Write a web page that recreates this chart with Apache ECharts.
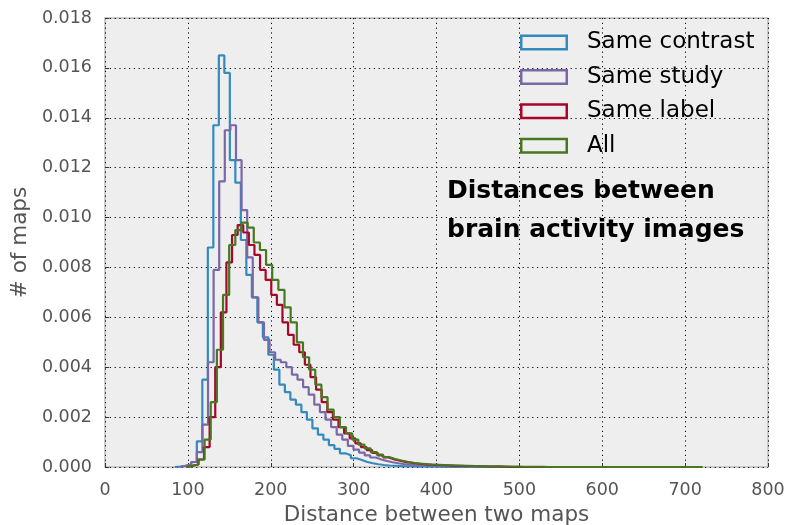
<!DOCTYPE html>
<html><head><meta charset="utf-8">
<script src="https://cdn.jsdelivr.net/npm/echarts@6/dist/echarts.min.js"></script>
<style>html,body{margin:0;padding:0;background:#fff}#c{width:788px;height:525px}</style>
</head><body><div id="c"></div>
<script>
// ---------------- data ----------------
const seriesNames = ['Same contrast', 'Same study', 'Same label', 'All'];
const seriesColors = ['#348ABD', '#7A68A6', '#A60628', '#467821'];
const xTicks = [0, 100, 200, 300, 400, 500, 600, 700, 800];
const yTicks = [0, 0.002, 0.004, 0.006, 0.008, 0.010, 0.012, 0.014, 0.016, 0.018];
const titleLines = ['Distances between', 'brain activity images'];
const xName = 'Distance between two maps';
const yName = '# of maps';

// histogram bins: first bin edge and bin width (data units), then bin heights
const contrastStart = 84.24, contrastWidth = 6.64;
const contrastValues = [0.00002, 0.00005, 0.0001, 0.0002, 0.00103, 0.0035, 0.0088, 0.0137, 0.0165, 0.0158,
  0.0123, 0.0114, 0.0091, 0.0077, 0.0068, 0.0058, 0.0052, 0.0045, 0.0039, 0.0033,
  0.0030, 0.0027, 0.0025, 0.0022, 0.0019, 0.00155, 0.0013, 0.0011, 0.00088, 0.00073,
  0.00055, 0.00047, 0.00035, 0.00028, 0.0002, 0.00015, 0.00011, 0.00008, 0.00006, 0.00005,
  0.00004, 0.00003, 0.00003, 0.00002, 0.00002, 0.00002, 0.00001, 0.00001, 0.00001, 0.00001,
  0, 0, 0, 0, 0, 0, 0, 0, 0, 0, 0, 0, 0, 0, 0, 0, 0, 0, 0, 0, 0, 0, 0, 0, 0, 0, 0, 0];

const studyStart = 90.55, studyWidth = 6.75;
const studyValues = [0.00005, 0.0001, 0.0002, 0.0006, 0.0017, 0.0042, 0.0079, 0.01145, 0.0135, 0.0137,
  0.0123, 0.0103, 0.0084, 0.0068, 0.0058, 0.0051, 0.0046, 0.0043, 0.0042, 0.0040,
  0.0037, 0.0035, 0.0032, 0.0029, 0.0025, 0.0022, 0.0019, 0.0016, 0.0013, 0.0011,
  0.00085, 0.0007, 0.00058, 0.00047, 0.00038, 0.0003, 0.00024, 0.00019, 0.00015, 0.00012,
  0.0001, 0.00008, 0.00007, 0.00006, 0.00005, 0.00004, 0.00003, 0.00003, 0.00002, 0.00002,
  0.00001, 0.00001, 0.00001, 0.00001, 0, 0, 0, 0, 0, 0, 0, 0, 0, 0, 0, 0, 0, 0, 0, 0, 0, 0, 0, 0, 0, 0, 0, 0, 0, 0, 0, 0];

const labelStart = 99.21, labelWidth = 6.76;
const labelValues = [0.00005, 0.0001, 0.0003, 0.0008, 0.002, 0.004, 0.0062, 0.0082, 0.0093, 0.0097,
  0.0094, 0.0089, 0.0085, 0.0079, 0.0075, 0.0069, 0.0065, 0.0058, 0.0053, 0.0049,
  0.0046, 0.0041, 0.0036, 0.0031, 0.0026, 0.0022, 0.0019, 0.0016, 0.00135, 0.00115,
  0.00095, 0.0008, 0.00068, 0.00057, 0.00047, 0.00038, 0.0003, 0.00025, 0.0002, 0.00017,
  0.00014, 0.00012, 0.0001, 0.00009, 0.00008, 0.00007, 0.00006, 0.00005, 0.00005, 0.00004,
  0.00004, 0.00003, 0.00003, 0.00002, 0.00002, 0.00002, 0.00001,
  0, 0, 0, 0, 0, 0, 0, 0, 0, 0, 0, 0, 0, 0, 0, 0, 0, 0, 0, 0, 0, 0, 0, 0, 0];

const allStart = 97.89, allWidth = 7.42;
const allValues = [0.00005, 0.0001, 0.0003, 0.0011, 0.0026, 0.0047, 0.0069, 0.0089, 0.0095, 0.0098,
  0.0096, 0.0090, 0.0087, 0.0081, 0.0075, 0.0071, 0.0064, 0.0058, 0.0050, 0.0044,
  0.0039, 0.0033, 0.0028, 0.0023, 0.0020, 0.0016, 0.00135, 0.0011, 0.0009, 0.00075,
  0.0006, 0.0005, 0.0004, 0.00032, 0.00026, 0.00021, 0.00017, 0.00014, 0.00012, 0.0001,
  0.00009, 0.00008, 0.00007, 0.00006, 0.00005, 0.00005, 0.00004, 0.00004, 0.00003, 0.00003,
  0.00003, 0.00002, 0.00002, 0.00002, 0.00001, 0.00001, 0.00001, 0.00001,
  0, 0, 0, 0, 0, 0, 0, 0, 0, 0, 0, 0, 0, 0, 0, 0, 0, 0, 0, 0, 0, 0, 0, 0, 0, 0];

// ---------------- build step outlines (matplotlib histtype='step') ----------------
function stepOutline(start, width, vals) {
  const pts = [[start, 0]];
  vals.forEach(function (v, i) {
    const a = start + i * width, b = a + width;
    pts.push([a, v], [b, v]);
  });
  pts.push([start + vals.length * width, 0]);
  return pts;
}
const hists = [
  stepOutline(contrastStart, contrastWidth, contrastValues),
  stepOutline(studyStart, studyWidth, studyValues),
  stepOutline(labelStart, labelWidth, labelValues),
  stepOutline(allStart, allWidth, allValues)
];

// hollow rectangle legend icon (outer clockwise, inner counter-clockwise)
const hollowRect = 'path://M0,0H48V16H0Z M2.5,2.5V13.5H45.5V2.5Z';

const FONT = 'DejaVu Sans';
const chart = echarts.init(document.getElementById('c'), null, {renderer: 'canvas'});
chart.setOption({
  animation: false,
  backgroundColor: '#ffffff',
  textStyle: {fontFamily: FONT},
  title: {
    text: titleLines.join('\n'),
    left: 447, top: 172, padding: 0,
    textStyle: {fontFamily: FONT, fontSize: 25, fontWeight: 'bold', color: '#000', lineHeight: 39}
  },
  legend: {
    orient: 'vertical', left: 520, top: 31, padding: 0,
    itemWidth: 48, itemHeight: 16, itemGap: 11.4,
    icon: hollowRect,
    data: seriesNames,
    textStyle: {fontFamily: FONT, fontSize: 23, color: '#000', padding: [0, 0, 0, 14]},
    selectedMode: false
  },
  grid: {
    left: 105, right: 20, top: 18, bottom: 58,
    outerBoundsMode: 'none', containLabel: false,
    show: true, backgroundColor: '#eeeeee', borderColor: '#bcbcbc', borderWidth: 1.5
  },
  xAxis: {
    type: 'value', min: xTicks[0], max: xTicks[xTicks.length - 1], interval: xTicks[1] - xTicks[0],
    name: xName, nameLocation: 'middle', nameGap: 37,
    nameTextStyle: {fontFamily: FONT, fontSize: 21.5, color: '#555555'},
    axisLine: {show: false},
    axisTick: {show: true, inside: true, length: 4, lineStyle: {color: '#333'}},
    axisLabel: {fontFamily: FONT, fontSize: 17.5, color: '#555555', margin: 14},
    splitLine: {show: true, lineStyle: {color: '#000', width: 1, type: [1.2, 3.6]}}
  },
  yAxis: {
    type: 'value', min: yTicks[0], max: yTicks[yTicks.length - 1], interval: yTicks[1] - yTicks[0],
    name: yName, nameLocation: 'middle', nameGap: 74,
    nameTextStyle: {fontFamily: FONT, fontSize: 21.5, color: '#555555'},
    axisLine: {show: false},
    axisTick: {show: true, inside: true, length: 4, lineStyle: {color: '#333'}},
    axisLabel: {fontFamily: FONT, fontSize: 17.5, color: '#555555', margin: 13,
      formatter: function (v) { return v.toFixed(3); }},
    splitLine: {show: true, lineStyle: {color: '#000', width: 1, type: [1.2, 3.6]}}
  },
  series: seriesNames.map(function (n, i) {
    return {
      name: n, type: 'line', data: hists[i], symbol: 'none', showSymbol: false,
      lineStyle: {color: seriesColors[i], width: 2.2},
      itemStyle: {color: seriesColors[i]},
      emphasis: {disabled: true}, z: 2 + i, clip: true
    };
  })
});
</script></body></html>
